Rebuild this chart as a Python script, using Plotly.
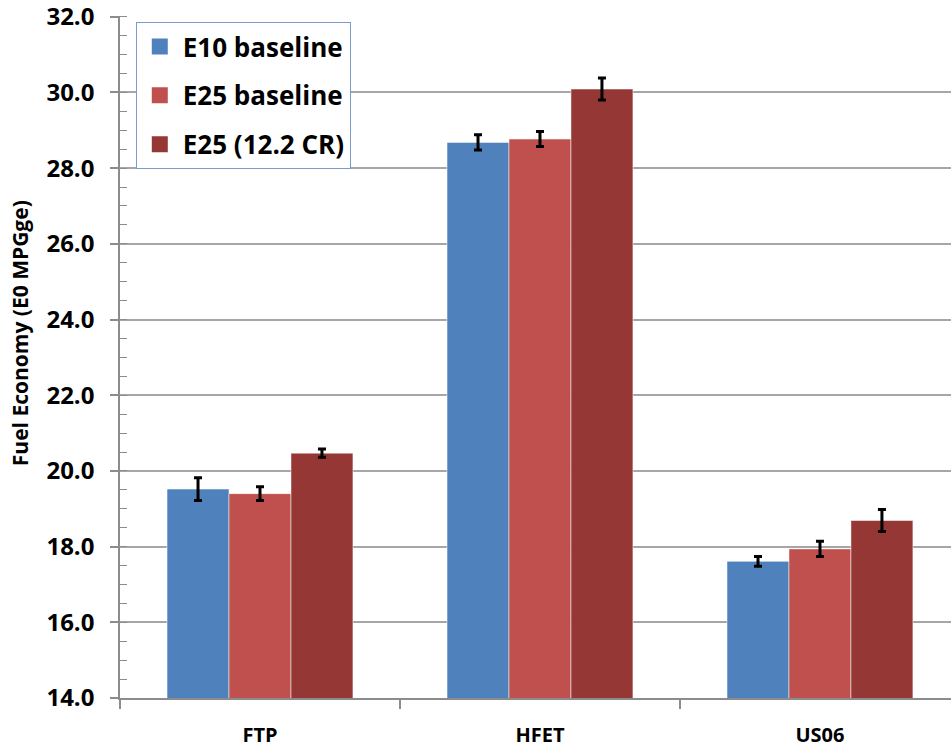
import plotly.graph_objects as go

categories = ["FTP", "HFET", "US06"]
series_names = ["E10 baseline", "E25 baseline", "E25 (12.2 CR)"]
e10_vals = [19.52, 28.68, 17.61]
e25_vals = [19.40, 28.77, 17.94]
e25cr_vals = [20.47, 30.09, 18.69]
e10_err = [0.30, 0.20, 0.13]
e25_err = [0.18, 0.20, 0.20]
e25cr_err = [0.11, 0.29, 0.29]
colors = ["#4F81BD", "#C0504D", "#953735"]
y_ticks = [14, 16, 18, 20, 22, 24, 26, 28, 30, 32]

FONT = "Open Sans"
fig = go.Figure()
for name, vals, errs, col in zip(series_names, [e10_vals, e25_vals, e25cr_vals],
                                 [e10_err, e25_err, e25cr_err], colors):
    fig.add_trace(go.Bar(
        x=categories, y=vals, name=name, showlegend=False,
        marker=dict(color=col, line=dict(color="rgba(255,255,255,0.5)", width=1)),
        error_y=dict(type="data", array=errs, color="black", thickness=3, width=4),
    ))
for i, (name, col) in enumerate(zip(series_names, colors)):
    fig.add_trace(go.Scatter(
        x=[None], y=[None], mode="markers", name=name, legendgroup=f"g{i}",
        marker=dict(symbol="square", size=18, color=col),
    ))

fig.update_layout(
    width=951, height=748,
    margin=dict(l=120, r=0, t=16, b=50),
    plot_bgcolor="white", paper_bgcolor="white",
    barmode="group", bargap=0.336, bargroupgap=0,
    font=dict(family=FONT, size=20, color="black"),
    legend=dict(
        x=0.019, y=0.991, xanchor="left", yanchor="top",
        bordercolor="#7A9CC8", borderwidth=1, bgcolor="white",
        font=dict(family=FONT, size=26, color="black", weight="bold"),
        itemwidth=36, tracegroupgap=12,
    ),
    yaxis=dict(
        range=[14, 32.02], tickvals=y_ticks, ticktext=[f"<b>{v:.1f}</b>" for v in y_ticks],
        automargin=False, ticklabelstandoff=11, ticklabeloverflow="allow",
        showgrid=True, gridcolor="#A6A6A6", gridwidth=1.5,
        showline=True, linecolor="#8C8C8C", linewidth=1.5,
        ticks="outside", ticklen=8, tickcolor="#8C8C8C", tickwidth=1.5,
        tickfont=dict(family=FONT, size=24),
        minor=dict(dtick=0.5, ticks="inside", ticklen=7, tickcolor="#8C8C8C", tickwidth=1, showgrid=False),
        zeroline=False,
    ),
    xaxis=dict(
        range=[-0.5, 2.468], automargin=False, ticklabelstandoff=18,
        tickvals=categories, ticktext=[f"<b>{c}</b>" for c in categories],
        showline=True, linecolor="#8C8C8C", linewidth=1.5,
        ticks="outside", tickson="boundaries", ticklen=9, tickcolor="#8C8C8C", tickwidth=1.5,
        tickfont=dict(family=FONT, size=20),
        showgrid=False,
    ),
    annotations=[dict(
        text="<b>Fuel Economy (E0 MPGge)</b>", textangle=-90,
        xref="paper", yref="paper", x=-0.1203, y=0.535,
        xanchor="center", yanchor="middle", showarrow=False,
        font=dict(family=FONT, size=21, color="black"),
    )],
)
fig.write_html("out.html", config={"displayModeBar": False},
               post_script="document.body.style.margin='0';")
